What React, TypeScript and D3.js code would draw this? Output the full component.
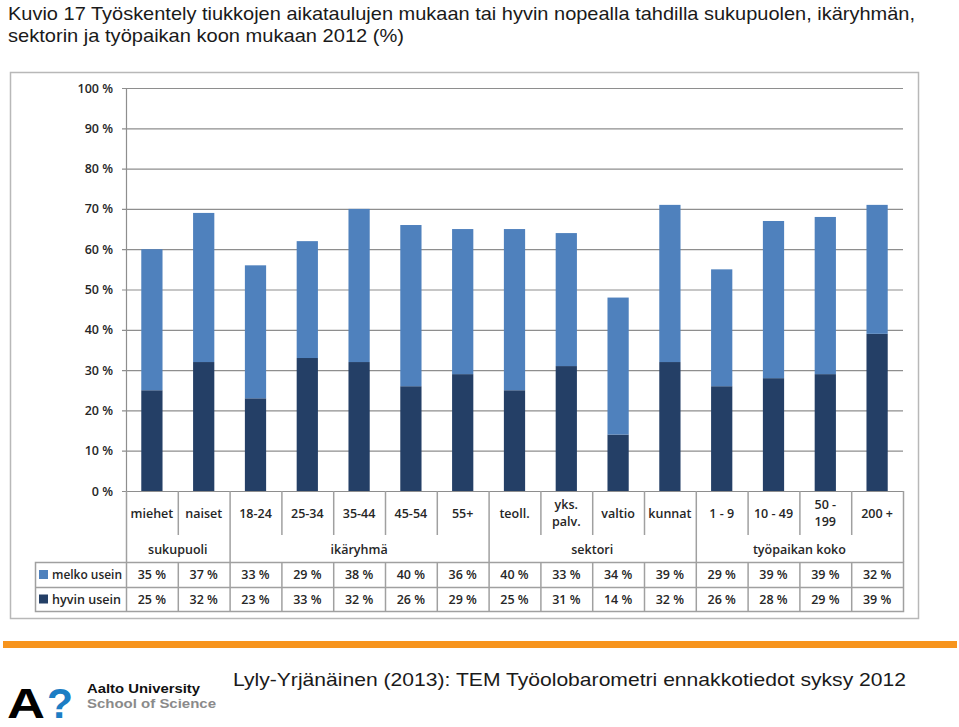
import React from "react";
import * as d3 from "d3";

const categories = ["miehet", "naiset", "18-24", "25-34", "35-44", "45-54", "55+", "teoll.", "yks.\npalv.", "valtio", "kunnat", "1 - 9", "10 - 49", "50 -\n199", "200 +"];
const groups = [
  { name: "sukupuoli", start: 0, end: 2 },
  { name: "ikäryhmä", start: 2, end: 7 },
  { name: "sektori", start: 7, end: 11 },
  { name: "työpaikan koko", start: 11, end: 15 },
];
const melkoUsein = [35, 37, 33, 29, 38, 40, 36, 40, 33, 34, 39, 29, 39, 39, 32];
const hyvinUsein = [25, 32, 23, 33, 32, 26, 29, 25, 31, 14, 32, 26, 28, 29, 39];
const yTicks = [0, 10, 20, 30, 40, 50, 60, 70, 80, 90, 100];
const seriesNames = ["melko usein", "hyvin usein"];

const LIGHT = "#4F81BD";
const DARK = "#243F66";
const GRID = "#8e8e8e";
const LINE = "#a0a0a0";
const CAL = "'Open Sans', 'Liberation Sans', sans-serif";

export default function App() {
  const left = 126, right = 903, top = 88, bottom = 491;
  const x = d3.scaleBand<number>().domain(d3.range(categories.length)).range([left, right]).paddingInner(0).paddingOuter(0);
  const y = d3.scaleLinear().domain([0, 100]).range([bottom, top]);
  const bw = x.bandwidth();
  const barW = bw * 0.41;
  const catBottom = 535;
  const tableTop = 562, tableMid = 587, tableBottom = 611, legendLeft = 35;
  const textColor = "#262626";

  return (
    <svg width={959} height={727} style={{ position: "absolute", left: 0, top: 0, background: "#fff" }}>
      {/* title */}
      <text x={8} y={20} fontFamily="'Liberation Sans', Arial, sans-serif" fontSize={19} fill="#1a1a1a" textLength={907} lengthAdjust="spacingAndGlyphs">Kuvio 17 Työskentely tiukkojen aikataulujen mukaan tai hyvin nopealla tahdilla sukupuolen, ikäryhmän,</text>
      <text x={8} y={42} fontFamily="'Liberation Sans', Arial, sans-serif" fontSize={19} fill="#1a1a1a" textLength={396} lengthAdjust="spacingAndGlyphs">sektorin ja työpaikan koon mukaan 2012 (%)</text>

      {/* chart frame */}
      <rect x={10.5} y={72.5} width={908} height={546} fill="#fff" stroke="#b8b8b8" strokeWidth={1.5} />

      {/* gridlines */}
      {yTicks.map((t) => (
        <g key={t}>
          <line x1={left - 4} x2={right} y1={y(t) + 0.5} y2={y(t) + 0.5} stroke={GRID} strokeWidth={1.2} />
          <text x={113} y={y(t) + 4.5} textAnchor="end" fontFamily={CAL} fontSize={12.5} fontWeight={600} fill={textColor}>{t} %</text>
        </g>
      ))}
      <line x1={left + 0.5} x2={left + 0.5} y1={top} y2={bottom} stroke={GRID} strokeWidth={1.2} />

      {/* bars */}
      {categories.map((c, i) => {
        const cx = (x(i) as number) + bw / 2;
        const h = hyvinUsein[i];
        const m = melkoUsein[i];
        return (
          <g key={c}>
            <rect x={cx - barW / 2} y={y(h)} width={barW} height={y(0) - y(h)} fill={DARK} />
            <rect x={cx - barW / 2} y={y(h + m)} width={barW} height={y(h) - y(h + m)} fill={LIGHT} />
          </g>
        );
      })}

      {/* category labels and separators */}
      {categories.map((c, i) => {
        const cx = (x(i) as number) + bw / 2;
        const lines = c.split("\n");
        return (
          <g key={"l" + c}>
            {lines.map((ln, k) => (
              <text key={k} x={cx} y={lines.length === 1 ? 518 : 509 + k * 17} textAnchor="middle" fontFamily={CAL} fontSize={12.5} fontWeight={600} fill={textColor}>{ln}</text>
            ))}
          </g>
        );
      })}
      {d3.range(categories.length + 1).map((i) => {
        const xx = i === categories.length ? right : (x(i) as number);
        const isGroupEdge = groups.some((g) => g.start === i) || i === categories.length;
        return <line key={"s" + i} x1={xx + 0.5} x2={xx + 0.5} y1={bottom} y2={isGroupEdge ? tableTop : catBottom} stroke={LINE} strokeWidth={1.5} />;
      })}
      {groups.map((g) => {
        const gx = ((x(g.start) as number) + (g.end === categories.length ? right : (x(g.end) as number))) / 2;
        return <text key={g.name} x={gx} y={554} textAnchor="middle" fontFamily={CAL} fontSize={12.5} fontWeight={600} fill={textColor}>{g.name}</text>;
      })}

      {/* data table */}
      <rect x={legendLeft + 0.5} y={tableTop + 0.5} width={right - legendLeft} height={tableBottom - tableTop} fill="none" stroke={LINE} strokeWidth={1.5} />
      <line x1={legendLeft} x2={right} y1={tableMid + 0.5} y2={tableMid + 0.5} stroke={LINE} strokeWidth={1.5} />
      {d3.range(categories.length).map((i) => (
        <line key={"t" + i} x1={(x(i) as number) + 0.5} x2={(x(i) as number) + 0.5} y1={tableTop} y2={tableBottom} stroke={LINE} strokeWidth={1.5} />
      ))}
      {[melkoUsein, hyvinUsein].map((arr, r) => {
        const rowY = r === 0 ? tableTop : tableMid;
        const rowH = r === 0 ? tableMid - tableTop : tableBottom - tableMid;
        return (
          <g key={"r" + r}>
            <rect x={legendLeft + 4} y={rowY + rowH / 2 - 4.5} width={9} height={9} fill={r === 0 ? LIGHT : DARK} />
            <text x={legendLeft + 17} y={rowY + rowH / 2 + 4.5} fontFamily={CAL} fontSize={12.5} fontWeight={600} fill={textColor} textLength={r === 0 ? 70 : 69} lengthAdjust="spacingAndGlyphs">{seriesNames[r]}</text>
            {arr.map((v, i) => (
              <text key={i} x={(x(i) as number) + bw / 2} y={rowY + rowH / 2 + 4.5} textAnchor="middle" fontFamily={CAL} fontSize={12.5} fontWeight={600} fill={textColor}>{v} %</text>
            ))}
          </g>
        );
      })}

      {/* footer */}
      <rect x={3} y={641} width={954} height={7} fill="#F7941D" />
      <text x={233} y={686} fontFamily="'Liberation Sans', Arial, sans-serif" fontSize={19} fill="#1a1a1a" textLength={673} lengthAdjust="spacingAndGlyphs">Lyly-Yrjänäinen (2013): TEM Työolobarometri ennakkotiedot syksy 2012</text>

      {/* logo */}
      <text x={7} y={718} fontFamily="'Liberation Sans', Arial, sans-serif" fontWeight={700} fontSize={42} fill="#000" textLength={38} lengthAdjust="spacingAndGlyphs">A</text>
      <text x={47} y={718} fontFamily="'Liberation Sans', Arial, sans-serif" fontWeight={700} fontSize={42} fill="#1C7DC4" textLength={26} lengthAdjust="spacingAndGlyphs">?</text>
      <text x={87} y={693} fontFamily="'Liberation Sans', Arial, sans-serif" fontWeight={700} fontSize={13} fill="#111" textLength={113} lengthAdjust="spacingAndGlyphs">Aalto University</text>
      <text x={87} y={708} fontFamily="'Liberation Sans', Arial, sans-serif" fontWeight={700} fontSize={13} fill="#8a8a8a" textLength={129} lengthAdjust="spacingAndGlyphs">School of Science</text>
    </svg>
  );
}
